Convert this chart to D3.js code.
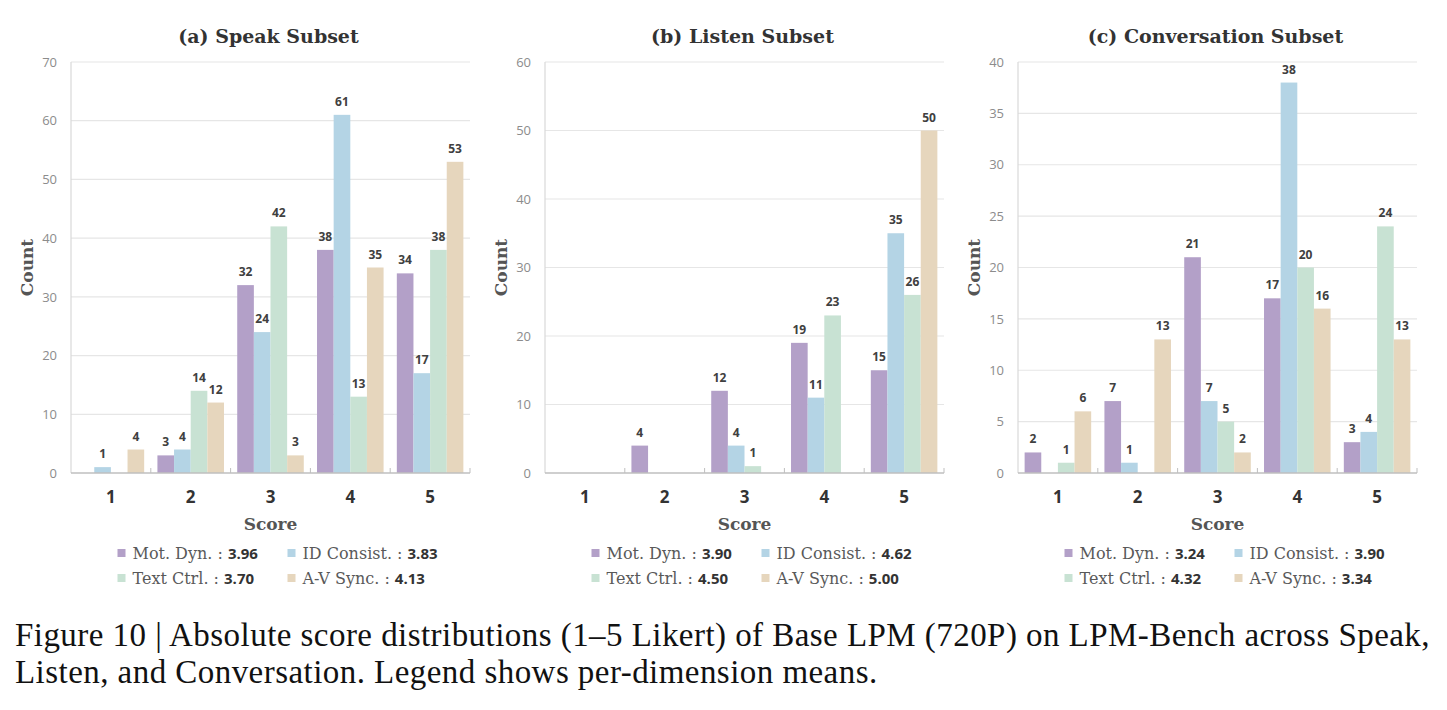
<!DOCTYPE html>
<html><head><meta charset="utf-8">
<script src="https://cdn.jsdelivr.net/npm/d3@7"></script>
<style>body{margin:0;background:#fff;} svg{display:block;}</style>
</head><body>
<svg id="chart" width="1447" height="710"></svg>
<script>
// ---- data ----
const scores = ["1", "2", "3", "4", "5"];
const seriesNames = ["Mot. Dyn.", "ID Consist.", "Text Ctrl.", "A-V Sync."];
const seriesColors = ["#b3a0c8", "#b4d4e5", "#c8e2d3", "#e6d6bd"];
const panelTitles = ["(a) Speak Subset", "(b) Listen Subset", "(c) Conversation Subset"];

const speakMot = [0, 3, 32, 38, 34];
const speakID = [1, 4, 24, 61, 17];
const speakText = [0, 14, 42, 13, 38];
const speakAV = [4, 12, 3, 35, 53];
const speakMeans = ["3.96", "3.83", "3.70", "4.13"];

const listenMot = [0, 4, 12, 19, 15];
const listenID = [0, 0, 4, 11, 35];
const listenText = [0, 0, 1, 23, 26];
const listenAV = [0, 0, 0, 0, 50];
const listenMeans = ["3.90", "4.62", "4.50", "5.00"];

const convMot = [2, 7, 21, 17, 3];
const convID = [0, 1, 7, 38, 4];
const convText = [1, 0, 5, 20, 24];
const convAV = [6, 13, 2, 16, 13];
const convMeans = ["3.24", "3.90", "4.32", "3.34"];

const yMaxes = [70, 60, 40];
const yTickSteps = [10, 10, 5];
const xTitle = "Score";
const yTitle = "Count";
const captionLines = [
  "Figure 10 | Absolute score distributions (1\u20135 Likert) of Base LPM (720P) on LPM-Bench across Speak,",
  "Listen, and Conversation. Legend shows per-dimension means."
];

const panels = [
  {series: [speakMot, speakID, speakText, speakAV], means: speakMeans},
  {series: [listenMot, listenID, listenText, listenAV], means: listenMeans},
  {series: [convMot, convID, convText, convAV], means: convMeans}
];

// ---- layout ----
const svg = d3.select("#chart");
const plotLefts = [71, 545, 1018];
const plotW = 399;
const plotTop = 62, plotBottom = 473;
const serif = "'DejaVu Serif', Georgia, serif";
const sans = "'Open Sans', sans-serif";

panels.forEach((p, pi) => {
  const left = plotLefts[pi], right = left + plotW;
  const cx = (left + right) / 2;
  const g = svg.append("g");

  const y = d3.scaleLinear().domain([0, yMaxes[pi]]).range([plotBottom, plotTop]);
  const x0 = d3.scaleBand().domain(scores).range([left, right]).padding(0);
  const pad = x0.bandwidth() * 0.083;
  const x1 = d3.scaleBand().domain(seriesNames).range([pad, x0.bandwidth() - pad]).padding(0);

  const ticks = d3.range(0, yMaxes[pi] + 0.001, yTickSteps[pi]);

  // gridlines
  g.append("g").selectAll("line").data(ticks.filter(t => t > 0)).join("line")
    .attr("x1", left).attr("x2", right)
    .attr("y1", d => y(d)).attr("y2", d => y(d))
    .attr("stroke", "#e6e6e6").attr("stroke-width", 1.2);

  // left axis line
  g.append("line").attr("x1", left).attr("x2", left)
    .attr("y1", plotTop).attr("y2", plotBottom)
    .attr("stroke", "#d9d9d9").attr("stroke-width", 1.2);

  // y axis labels
  const yAxis = d3.axisLeft(y).tickValues(ticks).tickSize(0).tickPadding(14).tickFormat(d3.format("d"));
  const ya = g.append("g").attr("transform", `translate(${left},0)`).call(yAxis);
  ya.select(".domain").remove();
  ya.selectAll("text").attr("font-family", sans).attr("font-size", 13).attr("fill", "#8c8c8c");

  // bars
  const data = scores.map((s, i) => ({score: s, vals: seriesNames.map((n, k) => ({name: n, k, v: p.series[k][i]}))}));
  const grp = g.append("g").selectAll("g").data(data).join("g")
    .attr("transform", d => `translate(${x0(d.score)},0)`);
  grp.selectAll("rect").data(d => d.vals).join("rect")
    .attr("x", d => x1(d.name))
    .attr("width", x1.bandwidth())
    .attr("y", d => y(d.v))
    .attr("height", d => plotBottom - y(d.v))
    .attr("fill", d => seriesColors[d.k]);
  grp.selectAll("text").data(d => d.vals.filter(v => v.v > 0)).join("text")
    .attr("x", d => x1(d.name) + x1.bandwidth() / 2)
    .attr("y", d => y(d.v) - 9)
    .attr("text-anchor", "middle")
    .attr("font-family", sans).attr("font-weight", 700).attr("font-size", 12)
    .attr("fill", "#404040")
    .text(d => d.v);

  // x axis
  g.append("line").attr("x1", left).attr("x2", right)
    .attr("y1", plotBottom).attr("y2", plotBottom)
    .attr("stroke", "#bfbfbf").attr("stroke-width", 1.5);
  const xAxis = d3.axisBottom(x0).tickSize(0).tickPadding(18);
  const xa = g.append("g").attr("transform", `translate(0,${plotBottom})`).call(xAxis);
  xa.select(".domain").remove();
  xa.selectAll("text").attr("font-family", sans).attr("font-weight", 700).attr("font-size", 17).attr("fill", "#333");
  // boundary tick marks
  g.append("g").selectAll("line").data(scores.slice(1).concat(["end"])).join("line")
    .attr("x1", d => d === "end" ? right : x0(d))
    .attr("x2", d => d === "end" ? right : x0(d))
    .attr("y1", plotBottom - 5).attr("y2", plotBottom)
    .attr("stroke", "#bfbfbf").attr("stroke-width", 1);

  // titles
  g.append("text").attr("x", cx - 2).attr("y", 43).attr("text-anchor", "middle")
    .attr("font-family", serif).attr("font-weight", 700).attr("font-size", 19).attr("fill", "#333")
    .text(panelTitles[pi]);
  g.append("text").attr("x", cx).attr("y", 530).attr("text-anchor", "middle")
    .attr("font-family", serif).attr("font-weight", 700).attr("font-size", 17).attr("fill", "#555")
    .text(xTitle);
  g.append("text").attr("transform", `translate(${left - 38},${(plotTop + plotBottom) / 2}) rotate(-90)`)
    .attr("text-anchor", "middle")
    .attr("font-family", serif).attr("font-weight", 700).attr("font-size", 17).attr("fill", "#555")
    .text(yTitle);

  // legend
  const rowY = [553, 578];
  seriesNames.forEach((n, k) => {
    const row = Math.floor(k / 2), col = k % 2;
    const mx = col === 0 ? cx - 153 : cx + 17;
    const yy = rowY[row];
    g.append("rect").attr("x", mx).attr("y", yy - 4).attr("width", 8).attr("height", 8).attr("fill", seriesColors[k]);
    const t = g.append("text").attr("x", mx + 15).attr("y", yy + 6);
    t.append("tspan").attr("font-family", serif).attr("font-size", 16).attr("fill", "#595959").text(n + " : ");
    t.append("tspan").attr("font-family", sans).attr("font-weight", 700).attr("font-size", 15).attr("fill", "#333").text(p.means[k]);
  });
});

// caption
svg.append("g").selectAll("text").data(captionLines).join("text")
  .attr("x", 15).attr("y", (d, i) => 646 + i * 37)
  .attr("font-family", "'Liberation Serif', serif").attr("font-size", 33)
  .attr("letter-spacing", 0.45).attr("fill", "#111")
  .text(d => d);
</script>
</body></html>
